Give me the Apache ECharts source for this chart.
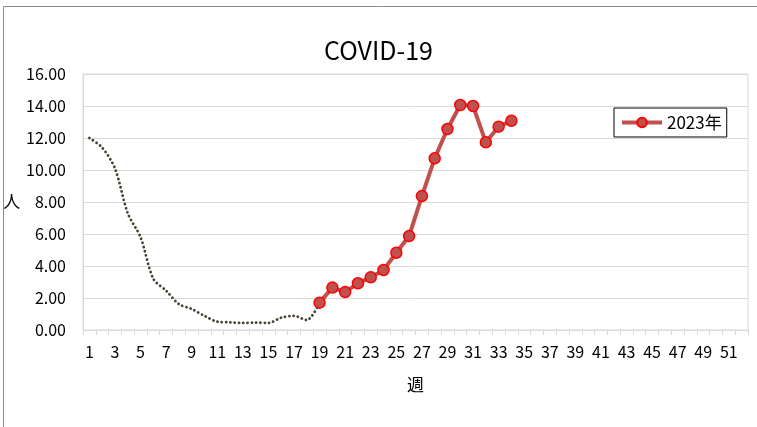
<!DOCTYPE html>
<html>
<head>
<meta charset="utf-8">
<script src="https://cdn.jsdelivr.net/npm/echarts@6/dist/echarts.min.js"></script>
<style>
  html, body { margin: 0; padding: 0; background: #fff; }
  #chart { width: 757px; height: 427px; }
</style>
</head>
<body>
<div id="chart"></div>
<script>
var weeks = [];
for (var i = 1; i <= 52; i++) weeks.push(String(i));

// weeks 1-19, dotted part (before week 19)
var earlyValues = [12.0, 11.4, 10.1, 7.3, 5.8, 3.2, 2.46, 1.62, 1.31, 0.88,
  0.52, 0.48, 0.44, 0.46, 0.44, 0.77, 0.88, 0.62, 1.71];

// weeks 19-34, 2023年
var values2023 = [1.71, 2.65, 2.37, 2.92, 3.29, 3.75, 4.83, 5.87, 8.37, 10.73,
  12.56, 14.06, 14.0, 11.73, 12.71, 13.08];

var yTicks = [0, 2, 4, 6, 8, 10, 12, 14, 16];

var fontName = '"Noto Sans CJK JP", "Noto Sans", sans-serif';

var padTo = function(arr, start) {
  var out = [];
  for (var i = 0; i < weeks.length; i++) {
    var k = i - start;
    out.push(k >= 0 && k < arr.length ? arr[k] : null);
  }
  return out;
};

var chart = echarts.init(document.getElementById('chart'), null, { renderer: 'canvas' });

var chartSettings = {
  backgroundColor: '#fff',
  animation: false,
  textStyle: { fontFamily: fontName, color: '#000' },
  title: {
    text: 'COVID-19',
    left: 'center',
    top: 33,
    textStyle: { fontFamily: fontName, fontSize: 25, fontWeight: 'normal', color: '#000' }
  },
  legend: {
    data: ['2023年'],
    left: 614,
    top: 108,
    padding: [6, 5, 6, 6],
    borderColor: '#000',
    borderWidth: 1,
    itemWidth: 40,
    itemHeight: 12,
    itemGap: 4,
    lineStyle: { width: 4 },
    textStyle: { fontFamily: fontName, fontSize: 17, color: '#000' }
  },
  graphic: [{
    type: 'rect',
    shape: { x: 3.5, y: 6.5, width: 800, height: 500 },
    style: { fill: 'none', stroke: '#8c8c8c', lineWidth: 1 },
    silent: true
  }],
  grid: {
    left: 83,
    right: 9,
    top: 74,
    bottom: 97,
    show: true,
    borderColor: '#d9d9d9',
    borderWidth: 1
  },
  xAxis: {
    type: 'category',
    data: weeks,
    boundaryGap: true,
    name: '週',
    nameLocation: 'middle',
    nameGap: 46,
    nameTextStyle: { fontFamily: fontName, fontSize: 17, color: '#000' },
    axisLine: { lineStyle: { color: '#d9d9d9' } },
    axisTick: { show: true, interval: 0, length: 5, lineStyle: { color: '#d9d9d9' } },
    axisLabel: { interval: 1, margin: 14, fontSize: 16, color: '#000', fontFamily: fontName }
  },
  yAxis: {
    type: 'value',
    min: yTicks[0],
    max: yTicks[yTicks.length - 1],
    interval: 2,
    name: '人',
    nameLocation: 'middle',
    nameRotate: 0,
    nameGap: 56,
    nameTextStyle: { fontFamily: fontName, fontSize: 17, color: '#000' },
    axisLine: { show: true, lineStyle: { color: '#d9d9d9' } },
    axisTick: { show: false },
    splitLine: { lineStyle: { color: '#d9d9d9', width: 1 } },
    axisLabel: {
      margin: 17,
      fontSize: 16,
      color: '#000',
      fontFamily: fontName,
      formatter: function(v) { return v.toFixed(2); }
    }
  },
  series: [{
    name: '推計',
    type: 'line',
    data: padTo(earlyValues, 0),
    smooth: 0.3,
    showSymbol: false,
    symbol: 'none',
    z: 1,
    lineStyle: { color: '#4a4331', width: 2.8, type: [0.1, 4.2], cap: 'round' }
  }, {
    name: '2023年',
    type: 'line',
    data: padTo(values2023, 18),
    symbol: 'circle',
    symbolSize: 11,
    showAllSymbol: true,
    z: 3,
    lineStyle: { color: '#c0504d', width: 4 },
    itemStyle: { color: '#c0504d', borderColor: '#ff0000', borderWidth: 1.5 }
  }]
};

chart.setOption(chartSettings);
</script>
</body>
</html>
